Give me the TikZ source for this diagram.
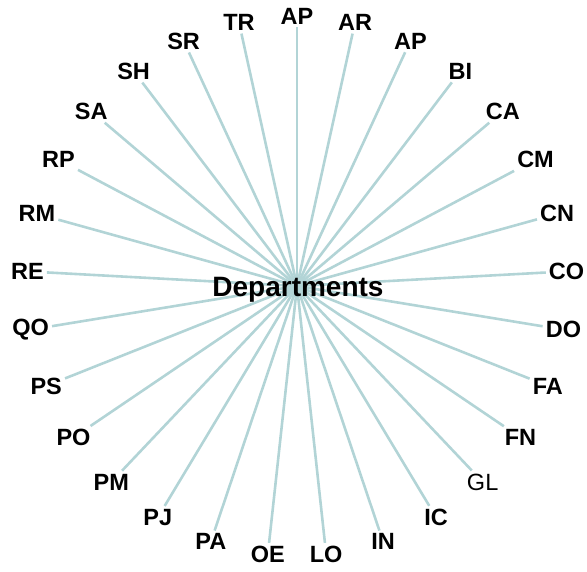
\documentclass[tikz,border=0pt]{standalone}
\usepackage{fontspec}
\setmainfont{Liberation Sans}
\usetikzlibrary{calc, backgrounds}
\definecolor{cSpoke}{RGB}{178,212,214}
\tikzset{
	hub/.style     ={font=\fontsize{28}{32}\selectfont\bfseries, inner sep=1pt},
	leaf/.style    ={font=\fontsize{23.5}{27}\selectfont\bfseries, inner sep=3pt},
	leafthin/.style={font=\fontsize{23.5}{27}\selectfont, inner sep=3pt},
	spoke/.style   ={draw=cSpoke, line width=2.6pt},
}
\begin{document}
\begin{tikzpicture}[x=1pt, y=1pt]
	\useasboundingbox (0,0) rectangle (587,571);
	\node[hub, anchor=base] (dept) at (298,274) {Departments};
	\coordinate (hubc) at (297,285);
	% ring of departments, clockwise from the top
	\foreach \lbl/\sty [count=\i from 0] in {AP/leaf, AR/leaf, AP/leaf, BI/leaf, CA/leaf, CM/leaf, CN/leaf, CO/leaf, DO/leaf, FA/leaf, FN/leaf, GL/leafthin, IC/leaf, IN/leaf, LO/leaf, OE/leaf, PA/leaf, PJ/leaf, PM/leaf, PO/leaf, PS/leaf, QO/leaf, RE/leaf, RM/leaf, RP/leaf, SA/leaf, SH/leaf, SR/leaf, TR/leaf} {
		\node[\sty] (d\i) at ($(hubc)+({90-\i*360/29}:270)$) {\lbl};
		\begin{scope}[on background layer]
			\draw[spoke] (hubc) -- (d\i);
		\end{scope}
	}
\end{tikzpicture}
\end{document}
